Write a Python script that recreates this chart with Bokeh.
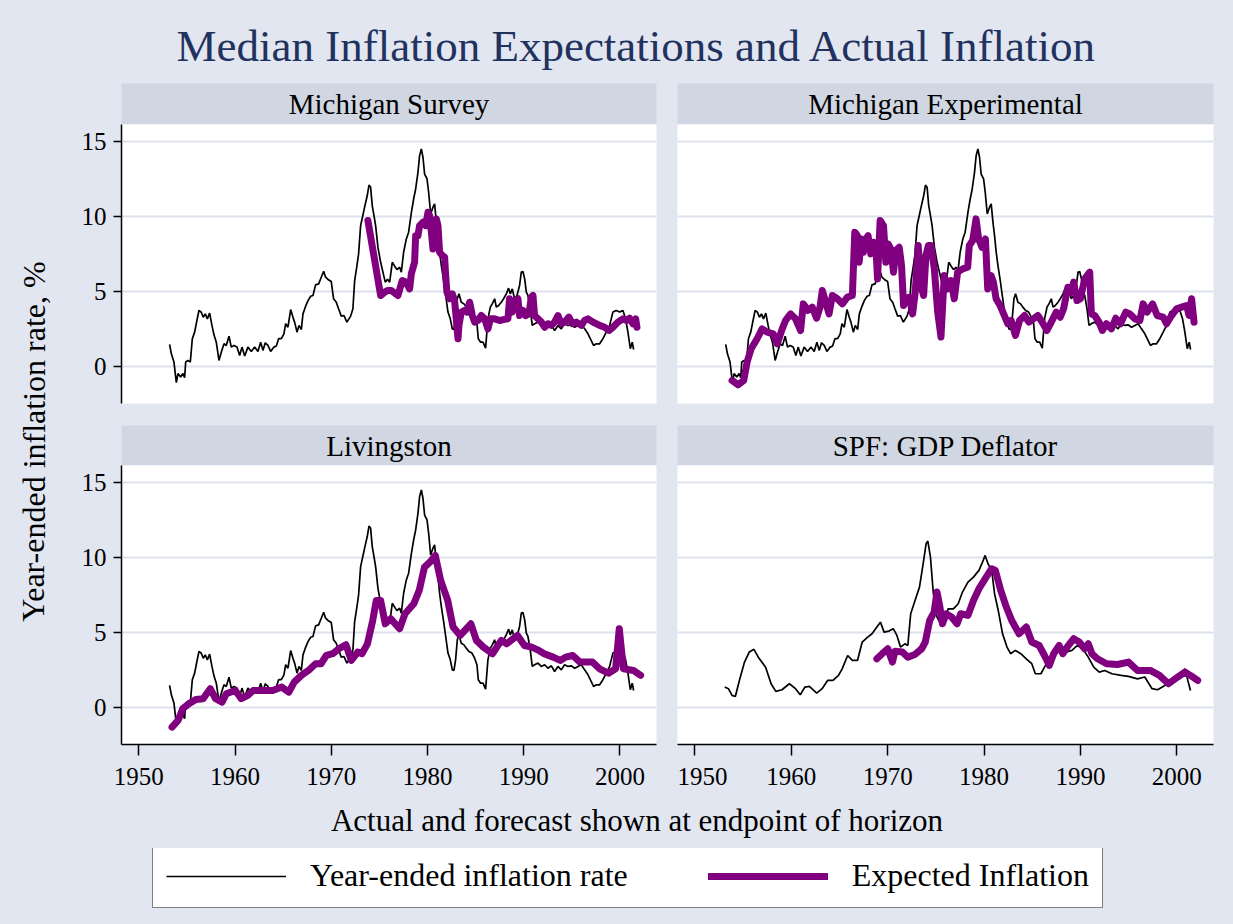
from bokeh.plotting import figure
from bokeh.layouts import row, column
from bokeh.models import Range1d, FixedTicker, Label, Legend, LegendItem
from bokeh.embed import file_html
from bokeh.resources import INLINE

# ---------------- data ----------------
cpi_year = [1953.20, 1953.38, 1953.65, 1953.90, 1954.07, 1954.35, 1954.59, 1954.76, 1954.87, 1955.11,
            1955.35, 1955.56, 1955.80, 1955.97, 1956.25, 1956.49, 1956.70, 1956.91, 1957.12, 1957.36,
            1957.60, 1957.81, 1958.05, 1958.33, 1958.57, 1958.85, 1959.09, 1959.37, 1959.61, 1959.89,
            1960.20, 1960.48, 1960.72, 1961.00, 1961.34, 1961.69, 1962.04, 1962.38, 1962.66, 1962.90,
            1963.14, 1963.42, 1963.70, 1964.04, 1964.29, 1964.53, 1964.81, 1965.08, 1965.26, 1965.50,
            1965.78, 1966.02, 1966.19, 1966.44, 1966.64, 1966.89, 1967.06, 1967.30, 1967.58, 1967.86,
            1968.10, 1968.37, 1968.69, 1968.96, 1969.21, 1969.41, 1969.66, 1970.00, 1970.24, 1970.52,
            1970.76, 1971.04, 1971.32, 1971.63, 1972.01, 1972.25, 1972.43, 1972.67, 1972.84, 1973.05,
            1973.29, 1973.54, 1973.74, 1973.92, 1974.09, 1974.26, 1974.44, 1974.61, 1974.85, 1975.13,
            1975.37, 1975.61, 1975.85, 1976.07, 1976.34, 1976.59, 1976.83, 1977.11, 1977.28, 1977.52,
            1977.80, 1978.04, 1978.32, 1978.56, 1978.77, 1979.01, 1979.18, 1979.36, 1979.53, 1979.70,
            1979.95, 1980.12, 1980.33, 1980.57, 1980.74, 1980.92, 1981.09, 1981.26, 1981.44, 1981.68,
            1981.89, 1982.13, 1982.37, 1982.58, 1982.75, 1982.92, 1983.10, 1983.27, 1983.51, 1983.79,
            1984.03, 1984.31, 1984.62, 1984.90, 1985.14, 1985.28, 1985.52, 1985.77, 1986.04, 1986.28,
            1986.53, 1986.73, 1986.98, 1987.15, 1987.39, 1987.67, 1987.91, 1988.19, 1988.43, 1988.60,
            1988.81, 1989.05, 1989.30, 1989.57, 1989.75, 1989.92, 1990.10, 1990.27, 1990.44, 1990.68,
            1990.89, 1991.13, 1991.48, 1991.83, 1992.17, 1992.52, 1992.87, 1993.21, 1993.56, 1993.90,
            1994.25, 1994.60, 1994.94, 1995.29, 1995.64, 1995.98, 1996.33, 1996.68, 1997.02, 1997.26,
            1997.54, 1997.89, 1998.23, 1998.58, 1998.93, 1999.27, 1999.62, 1999.97, 2000.31, 2000.59,
            2000.83, 2001.08, 2001.28, 2001.42]
cpi_rate = [1.45, 0.82, 0.27, -1.10, -0.50, -0.73, -0.50, -0.78, 0.27, 0.38,
            0.27, 1.83, 2.27, 2.83, 3.72, 3.60, 3.27, 3.49, 3.16, 3.54,
            2.72, 2.09, 1.60, 0.38, 0.93, 1.49, 1.38, 2.00, 1.27, 1.38,
            1.27, 0.71, 1.27, 0.67, 1.27, 0.98, 1.27, 0.98, 1.60, 1.05,
            1.56, 1.38, 0.98, 1.27, 1.34, 1.83, 1.83, 2.16, 2.83, 2.60,
            3.78, 3.27, 2.94, 2.27, 2.72, 2.45, 3.49, 3.94, 4.38, 4.67,
            4.72, 5.43, 5.50, 5.94, 6.34, 5.94, 5.79, 5.65, 4.50, 4.27,
            3.83, 3.34, 3.38, 2.94, 3.34, 3.83, 5.72, 6.72, 7.50, 9.39,
            10.10, 10.84, 11.40, 12.10, 11.95, 10.73, 10.06, 9.39, 7.95, 6.94,
            6.28, 5.61, 5.80, 5.61, 6.94, 6.68, 6.45, 6.61, 6.28, 7.61,
            8.50, 8.95, 10.24, 11.17, 11.84, 12.95, 14.07, 14.51, 13.96, 12.84,
            12.51, 11.62, 10.17, 10.62, 10.84, 9.62, 8.72, 7.61, 6.72, 5.72,
            4.72, 3.61, 3.16, 2.49, 2.45, 3.16, 4.50, 4.83, 4.27, 4.16,
            3.94, 3.72, 3.61, 3.27, 2.83, 1.83, 1.60, 1.60, 1.20, 3.16,
            3.94, 4.16, 4.50, 3.94, 4.05, 4.27, 4.50, 4.83, 5.21, 4.83,
            5.16, 4.50, 4.72, 5.39, 6.28, 6.32, 5.83, 4.94, 4.72, 3.83,
            2.72, 2.83, 2.94, 2.72, 2.83, 2.60, 2.76, 2.38, 2.72, 2.49,
            2.83, 2.72, 2.76, 2.60, 2.72, 2.83, 2.49, 2.16, 1.71, 1.38,
            1.49, 1.49, 1.83, 2.27, 2.72, 3.61, 3.72, 3.61, 3.72, 3.16,
            2.27, 1.16, 1.60, 1.11]

gdp_year = [1953.10, 1953.48, 1953.86, 1954.20, 1954.62, 1955.15, 1955.64, 1956.13, 1956.58, 1957.34,
            1957.91, 1958.40, 1959.04, 1959.80, 1960.44, 1960.93, 1961.42, 1961.88, 1962.64, 1963.20,
            1963.77, 1964.33, 1964.90, 1965.28, 1965.85, 1966.34, 1966.87, 1967.36, 1967.93, 1968.38,
            1968.88, 1969.25, 1969.63, 1970.13, 1970.58, 1970.96, 1971.33, 1971.79, 1972.09, 1972.39,
            1972.84, 1973.30, 1973.68, 1973.99, 1974.17, 1974.44, 1974.74, 1975.12, 1975.50, 1975.88,
            1976.26, 1976.82, 1977.32, 1977.76, 1978.33, 1978.90, 1979.47, 1979.84, 1980.11, 1980.41,
            1980.79, 1981.09, 1981.47, 1981.92, 1982.38, 1982.75, 1983.24, 1983.81, 1984.38, 1984.95,
            1985.32, 1985.90, 1986.27, 1986.84, 1987.41, 1987.98, 1988.55, 1989.11, 1989.68, 1990.24,
            1990.81, 1991.38, 1991.95, 1992.51, 1993.27, 1994.22, 1994.98, 1995.92, 1996.67, 1997.43,
            1998.00, 1998.75, 1999.51, 2000.27, 2000.84, 2001.14, 2001.41]
gdp_rate = [1.34, 1.23, 0.78, 0.71, 1.78, 3.01, 3.68, 3.86, 3.34, 2.67,
            1.56, 1.05, 1.16, 1.56, 1.23, 0.82, 1.34, 1.38, 0.94, 1.23,
            1.78, 1.78, 2.12, 2.56, 3.45, 3.12, 3.12, 4.35, 4.68, 4.90,
            5.35, 5.68, 5.01, 5.08, 5.24, 4.79, 4.01, 4.23, 4.12, 6.24,
            7.13, 8.02, 9.58, 10.92, 11.10, 10.03, 7.58, 6.02, 5.57, 5.46,
            6.57, 6.57, 6.91, 7.69, 8.36, 8.69, 9.14, 9.69, 10.14, 9.58,
            9.14, 7.58, 6.46, 4.90, 4.01, 3.57, 3.79, 3.57, 3.23, 2.90,
            2.23, 2.23, 2.67, 3.34, 3.90, 4.01, 3.68, 3.79, 4.12, 3.90,
            3.34, 2.67, 2.34, 2.45, 2.23, 2.12, 2.05, 1.89, 2.01, 1.23,
            1.16, 1.45, 1.78, 2.01, 2.56, 1.78, 1.11]

mich_year = [1973.81, 1975.13, 1975.54, 1975.89, 1976.24, 1976.93, 1977.38, 1977.80, 1978.14, 1978.32,
             1978.66, 1978.77, 1979.01, 1979.18, 1979.53, 1979.81, 1980.05, 1980.22, 1980.40, 1980.57,
             1980.74, 1980.92, 1981.09, 1981.26, 1981.54, 1981.78, 1981.89, 1982.02, 1982.30, 1982.58,
             1982.82, 1982.99, 1983.17, 1983.27, 1983.51, 1983.86, 1984.10, 1984.38, 1984.66, 1984.90,
             1985.25, 1985.59, 1985.94, 1986.28, 1986.53, 1986.98, 1987.50, 1988.02, 1988.36, 1988.53,
             1988.81, 1989.05, 1989.40, 1989.57, 1989.92, 1990.20, 1990.54, 1990.79, 1990.96, 1991.13,
             1991.48, 1991.83, 1992.17, 1992.52, 1992.87, 1993.21, 1993.56, 1993.90, 1994.25, 1994.70,
             1995.05, 1995.46, 1995.98, 1996.33, 1996.68, 1997.20, 1997.89, 1998.41, 1998.86, 1999.27,
             1999.79, 2000.31, 2000.66, 2001.01, 2001.35, 2001.63, 2001.77]
mich_rate = [9.73, 4.72, 4.94, 5.06, 5.06, 4.72, 5.72, 5.61, 5.16, 6.17,
             6.94, 8.72, 8.72, 9.39, 9.62, 9.39, 10.28, 10.06, 8.95, 7.83,
             9.39, 9.84, 9.39, 7.61, 7.39, 7.28, 6.05, 4.94, 4.50, 4.83,
             4.38, 3.16, 1.83, 2.72, 3.61, 3.72, 3.61, 4.27, 3.38, 2.94,
             3.05, 3.38, 3.16, 2.49, 3.16, 3.16, 3.05, 3.12, 3.16, 4.50,
             3.61, 4.38, 4.50, 3.38, 3.72, 3.38, 3.49, 4.61, 4.72, 3.38,
             3.16, 2.94, 2.60, 2.83, 2.72, 2.94, 3.38, 2.83, 2.94, 3.27,
             2.83, 2.94, 2.72, 3.05, 3.16, 2.94, 2.72, 2.60, 2.38, 2.60,
             2.94, 3.16, 3.05, 3.20, 2.83, 3.16, 2.60]

expt_year = [1953.86, 1954.49, 1955.07, 1955.42, 1955.84, 1956.46, 1956.98, 1957.50, 1958.13, 1958.54,
             1959.06, 1959.41, 1959.93, 1960.45, 1960.97, 1961.25, 1961.73, 1962.18, 1962.63, 1962.98,
             1963.22, 1963.57, 1963.92, 1964.26, 1964.78, 1965.30, 1965.82, 1966.34, 1966.59, 1966.86,
             1967.04, 1967.28, 1967.49, 1967.73, 1967.97, 1968.25, 1968.53, 1968.77, 1968.95, 1969.22,
             1969.57, 1969.81, 1970.05, 1970.33, 1970.61, 1970.85, 1971.20, 1971.44, 1971.65, 1971.89,
             1972.24, 1972.59, 1972.86, 1973.17, 1973.45, 1973.73, 1973.97, 1974.22, 1974.49, 1974.84,
             1975.19, 1975.53, 1975.87, 1976.22, 1976.57, 1976.91, 1977.26, 1977.78, 1978.30, 1978.47,
             1978.82, 1979.17, 1979.44, 1979.79, 1980.14, 1980.38, 1980.73, 1980.97, 1981.25, 1981.66,
             1982.11, 1982.46, 1982.81, 1983.26, 1983.68, 1984.20, 1984.65, 1985.13, 1985.58, 1986.03,
             1986.52, 1986.97, 1987.49, 1987.90, 1988.25, 1988.70, 1989.05, 1989.29, 1989.64, 1989.99,
             1990.44, 1990.96, 1991.13, 1991.48, 1991.93, 1992.27, 1992.69, 1993.21, 1993.66, 1994.15,
             1994.70, 1995.12, 1995.64, 1996.16, 1996.50, 1996.92, 1997.48, 1997.96, 1998.58, 1998.93,
             1999.45, 1999.97, 2000.49, 2001.01, 2001.26, 2001.53, 2001.78]
expt_rate = [-0.96, -1.25, -0.96, 0.27, 1.16, 1.83, 2.49, 2.27, 2.16, 1.49,
             2.49, 3.05, 3.49, 3.16, 2.38, 4.16, 3.72, 3.94, 3.20, 3.94,
             5.05, 4.27, 3.49, 4.72, 4.50, 4.16, 4.61, 4.72, 8.95, 8.72,
             6.94, 8.50, 7.61, 8.50, 8.72, 7.50, 8.28, 8.06, 5.83, 9.73,
             9.39, 6.94, 8.17, 7.83, 6.28, 7.72, 7.94, 6.72, 4.05, 4.50,
             4.61, 3.49, 4.94, 8.06, 5.39, 4.72, 7.39, 8.06, 8.06, 6.50,
             3.61, 1.94, 6.05, 5.16, 5.72, 4.50, 6.28, 6.50, 6.61, 8.06,
             8.39, 9.84, 8.50, 7.94, 8.50, 5.16, 6.05, 5.61, 4.50, 4.05,
             3.38, 2.83, 3.05, 2.05, 3.05, 3.38, 2.94, 3.16, 3.38, 2.94,
             2.38, 2.94, 3.61, 3.27, 3.83, 5.27, 4.94, 5.61, 4.38, 4.50,
             5.83, 6.28, 3.49, 3.38, 2.94, 2.38, 2.83, 2.49, 3.20, 2.83,
             3.61, 3.49, 3.16, 3.05, 4.16, 3.61, 4.16, 3.38, 3.27, 2.83,
             3.38, 3.83, 3.94, 4.05, 3.38, 4.50, 2.94]

liv_year = [1953.45, 1954.08, 1954.56, 1955.20, 1955.93, 1956.68, 1957.42, 1957.98, 1958.65, 1959.09,
            1960.02, 1960.65, 1961.32, 1961.88, 1962.80, 1963.92, 1964.85, 1965.59, 1966.15, 1966.89,
            1967.63, 1968.37, 1968.93, 1969.49, 1970.15, 1970.79, 1971.52, 1972.08, 1972.75, 1973.20,
            1973.76, 1974.31, 1974.68, 1975.13, 1975.61, 1976.17, 1977.10, 1977.66, 1978.58, 1979.14,
            1979.69, 1980.25, 1980.81, 1981.37, 1982.10, 1982.66, 1983.40, 1984.51, 1985.08, 1985.81,
            1986.75, 1987.67, 1988.23, 1989.35, 1990.08, 1990.83, 1991.57, 1992.13, 1993.06, 1993.80,
            1994.36, 1995.10, 1995.84, 1997.14, 1997.88, 1998.81, 1999.55, 1999.93, 2000.36, 2001.40,
            2002.15]
liv_rate = [-1.34, -0.89, -0.11, 0.22, 0.51, 0.56, 1.23, 0.56, 0.33, 0.89,
            1.11, 0.56, 0.78, 1.11, 1.11, 1.11, 1.34, 1.00, 1.67, 2.12,
            2.45, 2.90, 2.90, 3.45, 3.57, 3.90, 4.17, 3.12, 3.68, 3.57,
            4.23, 5.79, 7.13, 7.13, 5.57, 5.91, 5.24, 6.24, 6.91, 7.80,
            9.36, 9.69, 10.14, 8.47, 7.13, 5.35, 4.79, 5.57, 4.46, 4.01,
            3.57, 4.46, 4.23, 4.79, 4.12, 4.01, 3.79, 3.57, 3.34, 3.12,
            3.34, 3.45, 3.01, 3.01, 2.56, 2.27, 2.56, 5.24, 2.56, 2.45,
            2.12]

spf_year = [1968.88, 1969.44, 1970.01, 1970.50, 1970.76, 1971.52, 1972.09, 1972.84, 1973.53, 1973.90,
            1974.36, 1974.82, 1975.12, 1975.42, 1975.68, 1976.06, 1976.63, 1977.20, 1977.58, 1978.33,
            1978.90, 1979.47, 1980.22, 1980.79, 1981.17, 1981.73, 1982.31, 1982.87, 1983.63, 1984.38,
            1984.95, 1985.71, 1986.27, 1986.77, 1987.22, 1987.79, 1988.16, 1988.74, 1989.30, 1989.87,
            1990.43, 1990.81, 1991.19, 1991.76, 1992.71, 1993.84, 1994.98, 1995.92, 1997.24, 1998.19,
            1999.13, 2000.08, 2000.83, 2001.40, 2002.16]
spf_rate = [3.23, 3.57, 3.90, 3.01, 3.74, 3.68, 3.34, 3.52, 3.90, 4.35,
            5.79, 6.35, 7.69, 6.69, 5.57, 6.24, 6.02, 5.57, 6.24, 6.13,
            7.13, 7.91, 8.69, 9.25, 9.14, 7.80, 6.69, 5.79, 4.90, 5.35,
            4.35, 4.12, 3.45, 2.79, 3.57, 4.12, 3.57, 4.12, 4.57, 4.35,
            3.90, 4.23, 3.57, 3.23, 2.90, 2.85, 3.01, 2.45, 2.45, 2.12,
            1.56, 2.01, 2.34, 2.12, 1.78]

panel_titles = ["Michigan Survey", "Michigan Experimental", "Livingston", "SPF: GDP Deflator"]
legend_labels = ["Year-ended inflation rate", "Expected Inflation"]
x_ticks = [1950, 1960, 1970, 1980, 1990, 2000]
y_ticks = [0, 5, 10, 15]

# ---------------- styling ----------------
BG = "#E1E6F0"
STRIP = "#D1D7E2"
GRID = "#DDE2EC"
PURPLE = "#800080"
TITLE_C = "#22325E"
FONT = "Liberation Serif"
XR = (1948.2, 2003.8)
YR = (-2.5, 16.15)

TOTAL_W = 1233
W_YLAB = 75
W_LEFT = 602               # 46 border + 535 frame + 21 gap
W_RIGHT = TOTAL_W - W_YLAB - W_LEFT   # 536 frame + right border
R_RIGHT = W_RIGHT - 536
BOX = {"background-color": BG}


def blank(width, height, xr=None, yr=None):
    f = figure(width=width, height=height, output_backend="svg", toolbar_location=None,
               x_range=Range1d(0, width) if xr is None else Range1d(*xr),
               y_range=Range1d(0, height) if yr is None else Range1d(*yr),
               x_axis_location=None, y_axis_location=None,
               min_border_left=0, min_border_right=0, min_border_top=0, min_border_bottom=0)
    f.background_fill_color = BG
    f.border_fill_color = BG
    f.outline_line_color = None
    f.grid.visible = False
    return f


def strip(width, height, left, right, text):
    s = figure(width=width, height=height, output_backend="svg", toolbar_location=None,
               x_range=Range1d(0, 1), y_range=Range1d(0, 1),
               x_axis_location=None, y_axis_location=None,
               min_border_left=left, min_border_right=right, min_border_top=0, min_border_bottom=0)
    s.background_fill_color = STRIP
    s.border_fill_color = BG
    s.outline_line_color = None
    s.grid.visible = False
    s.add_layout(Label(x=0.5, y=0.5, text=text, text_align="center", text_baseline="middle",
                       text_font=FONT, text_font_size="29px", text_color="black"))
    return s


def panel(width, height, left, right, bottom, yaxis, xaxis, act_x, act_y, exp_x, exp_y):
    p = figure(width=width, height=height, output_backend="svg", toolbar_location=None,
               x_range=Range1d(*XR), y_range=Range1d(*YR),
               x_axis_location="below" if xaxis else None,
               y_axis_location="left" if yaxis else None,
               min_border_left=left, min_border_right=right, min_border_top=0,
               min_border_bottom=bottom)
    p.background_fill_color = "white"
    p.border_fill_color = BG
    p.outline_line_color = None
    p.xgrid.visible = False
    p.ygrid.ticker = FixedTicker(ticks=y_ticks)
    p.ygrid.grid_line_color = GRID
    p.ygrid.grid_line_width = 2
    for ax, ticks, tout, stand in ((p.xaxis, x_ticks, 11, 12), (p.yaxis, y_ticks, 8, 7)):
        ax.ticker = FixedTicker(ticks=ticks)
        ax.axis_line_color = "black"
        ax.axis_line_width = 1.5
        ax.major_tick_line_color = "black"
        ax.major_tick_line_width = 1.5
        ax.major_tick_out = tout
        ax.major_tick_in = 0
        ax.minor_tick_line_color = None
        ax.major_label_text_font = FONT
        ax.major_label_text_font_size = "25px"
        ax.major_label_text_color = "black"
        ax.major_label_standoff = stand
    p.yaxis.major_label_orientation = "horizontal"
    p.line(act_x, act_y, line_color="black", line_width=1.7)
    p.line(exp_x, exp_y, line_color=PURPLE, line_width=7, line_join="round", line_cap="round")
    return p


# title
title_fig = blank(TOTAL_W, 83)
title_fig.add_layout(Label(x=636.5, y=38, text="Median Inflation Expectations and Actual Inflation",
                           text_align="center", text_baseline="middle", text_font=FONT,
                           text_font_size="45px", text_color=TITLE_C))

# y-axis label
ylab_fig = blank(W_YLAB, 711)
ylab_fig.add_layout(Label(x=33, y=353, text="Year-ended inflation rate, %", angle=1.5707963,
                          text_align="center", text_baseline="middle", text_font=FONT,
                          text_font_size="32px", text_color="black"))

s_tl = strip(W_LEFT, 41, 46, 21, panel_titles[0])
s_tr = strip(W_RIGHT, 41, 0, R_RIGHT, panel_titles[1])
s_bl = strip(W_LEFT, 40, 46, 21, panel_titles[2])
s_br = strip(W_RIGHT, 40, 0, R_RIGHT, panel_titles[3])

p_tl = panel(W_LEFT, 301, 46, 21, 22, True, False, cpi_year, cpi_rate, mich_year, mich_rate)
p_tr = panel(W_RIGHT, 301, 0, R_RIGHT, 22, False, False, cpi_year, cpi_rate, expt_year, expt_rate)
p_bl = panel(W_LEFT, 329, 46, 21, 50, True, True, cpi_year, cpi_rate, liv_year, liv_rate)
p_br = panel(W_RIGHT, 329, 0, R_RIGHT, 50, False, True, gdp_year, gdp_rate, spf_year, spf_rate)

# x-axis label
xlab_fig = blank(TOTAL_W, 54)
xlab_fig.add_layout(Label(x=636.5, y=28, text="Actual and forecast shown at endpoint of horizon",
                          text_align="center", text_baseline="middle", text_font=FONT,
                          text_font_size="31px", text_color="black"))

# legend (its sample renderers carry real series but fall outside this figure's ranges)
leg_fig = blank(TOTAL_W, 76, xr=(0, 1), yr=(0, 1))
r1 = leg_fig.line(cpi_year, cpi_rate, line_color="black", line_width=1.7)
r2 = leg_fig.line(liv_year, liv_rate, line_color=PURPLE, line_width=7, line_cap="round")
legend = Legend(items=[LegendItem(label=legend_labels[0], renderers=[r1]),
                       LegendItem(label=legend_labels[1], renderers=[r2])],
                orientation="horizontal", location=(152, 16),
                glyph_width=120, glyph_height=32, label_standoff=24, spacing=80,
                padding=13, margin=0,
                border_line_color="black", border_line_width=1.2,
                background_fill_color="white", background_fill_alpha=1.0,
                label_text_font=FONT, label_text_font_size="32px", label_text_color="black")
leg_fig.add_layout(legend)

grid_col = column(row(s_tl, s_tr, styles=BOX), row(p_tl, p_tr, styles=BOX),
                  row(s_bl, s_br, styles=BOX), row(p_bl, p_br, styles=BOX), styles=BOX)
root = column(title_fig, row(ylab_fig, grid_col, styles=BOX), xlab_fig, leg_fig, styles=BOX)

open("out.html", "w").write(file_html(root, INLINE))
